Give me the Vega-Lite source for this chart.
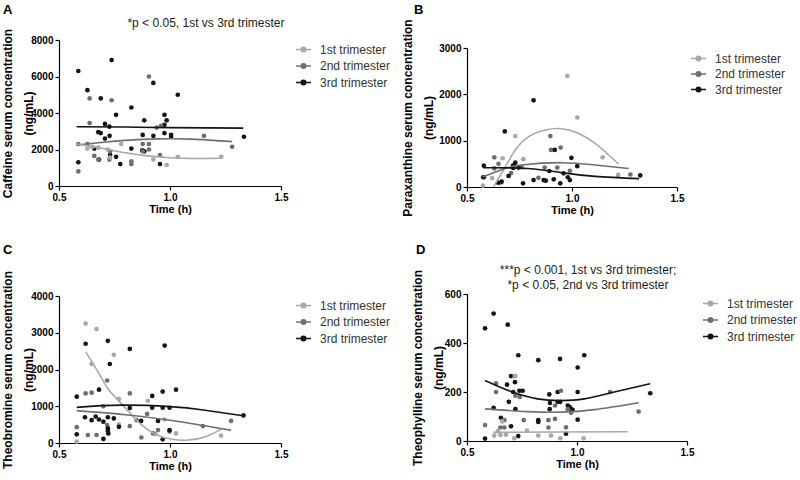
{
"$schema": "https://vega.github.io/schema/vega-lite/v6.json",
"background": "white",
"padding": {"left": 0, "top": 3, "right": 5, "bottom": 5},
"config": {
  "font": "Liberation Sans",
  "view": {"stroke": null},
  "axis": {"domainColor": "#000", "tickColor": "#000", "labelColor": "#000", "titleColor": "#000", "labelFontWeight": "bold", "labelFontSize": 10, "titleFontSize": 11, "titleFontWeight": "bold", "grid": false, "tickSize": 4, "labelPadding": 2, "domainWidth": 1.2, "tickWidth": 1.2, "labelFlush": false, "labelOverlap": false, "tickCount": 10},
  "axisY": {"titleFontSize": 12, "titleLineHeight": 21, "titleAlign": "center", "titleBaseline": "middle", "titleAngle": -90, "labelOverlap": false},
  "legend": {"title": null, "orient": "none", "symbolType": "M-1,0H1M-0.3,0A0.3,0.3 0 1,1 0.3,0A0.3,0.3 0 1,1 -0.3,0Z", "symbolSize": 225, "symbolStrokeWidth": 1.5, "labelFontSize": 12, "labelColor": "#333", "labelOffset": 8, "rowPadding": 1.5, "padding": 0}
},
"datasets": {
"pts": [
{"panel":"A","tri":"3rd trimester","time":0.587,"conc":6300},{"panel":"A","tri":"3rd trimester","time":0.737,"conc":6900},{"panel":"A","tri":"3rd trimester","time":0.628,"conc":5250},{"panel":"A","tri":"3rd trimester","time":0.688,"conc":4800},{"panel":"A","tri":"3rd trimester","time":0.925,"conc":5650},{"panel":"A","tri":"3rd trimester","time":1.035,"conc":5000},{"panel":"A","tri":"3rd trimester","time":0.826,"conc":4300},{"panel":"A","tri":"3rd trimester","time":0.757,"conc":3900},{"panel":"A","tri":"3rd trimester","time":0.975,"conc":3900},{"panel":"A","tri":"3rd trimester","time":0.985,"conc":3600},{"panel":"A","tri":"3rd trimester","time":0.884,"conc":3600},{"panel":"A","tri":"3rd trimester","time":0.707,"conc":3400},{"panel":"A","tri":"3rd trimester","time":0.727,"conc":3250},{"panel":"A","tri":"3rd trimester","time":0.975,"conc":3350},{"panel":"A","tri":"3rd trimester","time":0.677,"conc":2950},{"panel":"A","tri":"3rd trimester","time":0.688,"conc":2900},{"panel":"A","tri":"3rd trimester","time":0.728,"conc":2750},{"panel":"A","tri":"3rd trimester","time":0.707,"conc":2600},{"panel":"A","tri":"3rd trimester","time":0.877,"conc":2800},{"panel":"A","tri":"3rd trimester","time":0.925,"conc":2750},{"panel":"A","tri":"3rd trimester","time":0.975,"conc":2900},{"panel":"A","tri":"3rd trimester","time":1.005,"conc":2800},{"panel":"A","tri":"3rd trimester","time":1.005,"conc":2700},{"panel":"A","tri":"3rd trimester","time":1.333,"conc":2700},{"panel":"A","tri":"3rd trimester","time":0.659,"conc":2050},{"panel":"A","tri":"3rd trimester","time":0.826,"conc":2050},{"panel":"A","tri":"3rd trimester","time":0.875,"conc":1950},{"panel":"A","tri":"3rd trimester","time":0.884,"conc":1900},{"panel":"A","tri":"3rd trimester","time":0.73,"conc":1700},{"panel":"A","tri":"3rd trimester","time":0.68,"conc":1450},{"panel":"A","tri":"3rd trimester","time":0.757,"conc":1600},{"panel":"A","tri":"3rd trimester","time":0.587,"conc":1300},{"panel":"A","tri":"3rd trimester","time":0.776,"conc":1200},{"panel":"A","tri":"3rd trimester","time":0.955,"conc":1200},
{"panel":"A","tri":"2nd trimester","time":0.905,"conc":6000},{"panel":"A","tri":"2nd trimester","time":0.638,"conc":4800},{"panel":"A","tri":"2nd trimester","time":0.737,"conc":4700},{"panel":"A","tri":"2nd trimester","time":0.638,"conc":3450},{"panel":"A","tri":"2nd trimester","time":0.587,"conc":2300},{"panel":"A","tri":"2nd trimester","time":0.628,"conc":2300},{"panel":"A","tri":"2nd trimester","time":0.877,"conc":2300},{"panel":"A","tri":"2nd trimester","time":0.905,"conc":2300},{"panel":"A","tri":"2nd trimester","time":1.153,"conc":2750},{"panel":"A","tri":"2nd trimester","time":1.28,"conc":2150},{"panel":"A","tri":"2nd trimester","time":0.905,"conc":2000},{"panel":"A","tri":"2nd trimester","time":0.659,"conc":1650},{"panel":"A","tri":"2nd trimester","time":0.677,"conc":1450},{"panel":"A","tri":"2nd trimester","time":0.727,"conc":1450},{"panel":"A","tri":"2nd trimester","time":0.826,"conc":1350},{"panel":"A","tri":"2nd trimester","time":0.826,"conc":1200},{"panel":"A","tri":"2nd trimester","time":0.955,"conc":1700},{"panel":"A","tri":"2nd trimester","time":0.587,"conc":800},{"panel":"A","tri":"2nd trimester","time":0.94,"conc":3200},{"panel":"A","tri":"2nd trimester","time":0.96,"conc":3300},{"panel":"A","tri":"2nd trimester","time":0.73,"conc":1900},{"panel":"A","tri":"2nd trimester","time":0.877,"conc":1900},
{"panel":"A","tri":"1st trimester","time":0.628,"conc":2050},{"panel":"A","tri":"1st trimester","time":0.78,"conc":2300},{"panel":"A","tri":"1st trimester","time":0.925,"conc":1450},{"panel":"A","tri":"1st trimester","time":0.985,"conc":1150},{"panel":"A","tri":"1st trimester","time":1.035,"conc":1600},{"panel":"A","tri":"1st trimester","time":1.231,"conc":1600},{"panel":"A","tri":"1st trimester","time":0.677,"conc":2100},{"panel":"A","tri":"1st trimester","time":0.72,"conc":2000},{"panel":"A","tri":"1st trimester","time":0.65,"conc":2150},{"panel":"A","tri":"1st trimester","time":0.73,"conc":1550},
{"panel":"B","tri":"1st trimester","time":0.978,"conc":2400},{"panel":"B","tri":"1st trimester","time":1.025,"conc":1500},{"panel":"B","tri":"1st trimester","time":0.73,"conc":1100},{"panel":"B","tri":"1st trimester","time":0.67,"conc":620},{"panel":"B","tri":"1st trimester","time":0.768,"conc":600},{"panel":"B","tri":"1st trimester","time":1.146,"conc":640},{"panel":"B","tri":"1st trimester","time":0.62,"conc":190},{"panel":"B","tri":"1st trimester","time":1.22,"conc":260},{"panel":"B","tri":"1st trimester","time":0.576,"conc":30},{"panel":"B","tri":"1st trimester","time":0.66,"conc":80},
{"panel":"B","tri":"2nd trimester","time":0.897,"conc":1100},{"panel":"B","tri":"2nd trimester","time":0.9,"conc":800},{"panel":"B","tri":"2nd trimester","time":0.946,"conc":850},{"panel":"B","tri":"2nd trimester","time":0.63,"conc":640},{"panel":"B","tri":"2nd trimester","time":0.576,"conc":210},{"panel":"B","tri":"2nd trimester","time":1.278,"conc":270},{"panel":"B","tri":"2nd trimester","time":0.93,"conc":420},{"panel":"B","tri":"2nd trimester","time":0.87,"conc":420},{"panel":"B","tri":"2nd trimester","time":0.76,"conc":430},{"panel":"B","tri":"2nd trimester","time":0.65,"conc":500},{"panel":"B","tri":"2nd trimester","time":0.71,"conc":300},{"panel":"B","tri":"2nd trimester","time":0.84,"conc":200},{"panel":"B","tri":"2nd trimester","time":0.99,"conc":350},{"panel":"B","tri":"2nd trimester","time":0.63,"conc":400},
{"panel":"B","tri":"3rd trimester","time":0.817,"conc":1870},{"panel":"B","tri":"3rd trimester","time":0.68,"conc":1200},{"panel":"B","tri":"3rd trimester","time":0.918,"conc":800},{"panel":"B","tri":"3rd trimester","time":0.997,"conc":630},{"panel":"B","tri":"3rd trimester","time":1.025,"conc":450},{"panel":"B","tri":"3rd trimester","time":1.325,"conc":250},{"panel":"B","tri":"3rd trimester","time":0.58,"conc":460},{"panel":"B","tri":"3rd trimester","time":0.58,"conc":210},{"panel":"B","tri":"3rd trimester","time":0.73,"conc":525},{"panel":"B","tri":"3rd trimester","time":0.72,"conc":410},{"panel":"B","tri":"3rd trimester","time":0.698,"conc":237},{"panel":"B","tri":"3rd trimester","time":0.767,"conc":80},{"panel":"B","tri":"3rd trimester","time":0.817,"conc":150},{"panel":"B","tri":"3rd trimester","time":0.865,"conc":150},{"panel":"B","tri":"3rd trimester","time":0.875,"conc":137},{"panel":"B","tri":"3rd trimester","time":0.913,"conc":165},{"panel":"B","tri":"3rd trimester","time":0.944,"conc":80},{"panel":"B","tri":"3rd trimester","time":0.96,"conc":295},{"panel":"B","tri":"3rd trimester","time":0.98,"conc":210},{"panel":"B","tri":"3rd trimester","time":0.99,"conc":150},{"panel":"B","tri":"3rd trimester","time":0.648,"conc":94},{"panel":"B","tri":"3rd trimester","time":0.665,"conc":115},{"panel":"B","tri":"3rd trimester","time":0.892,"conc":345},{"panel":"B","tri":"3rd trimester","time":0.72,"conc":470},{"panel":"B","tri":"3rd trimester","time":0.745,"conc":420},
{"panel":"C","tri":"1st trimester","time":0.62,"conc":3250},{"panel":"C","tri":"1st trimester","time":0.669,"conc":3100},{"panel":"C","tri":"1st trimester","time":0.647,"conc":2150},{"panel":"C","tri":"1st trimester","time":0.747,"conc":2400},{"panel":"C","tri":"1st trimester","time":0.77,"conc":1200},{"panel":"C","tri":"1st trimester","time":0.58,"conc":40},{"panel":"C","tri":"1st trimester","time":1.027,"conc":260},{"panel":"C","tri":"1st trimester","time":1.23,"conc":200},{"panel":"C","tri":"1st trimester","time":0.934,"conc":250},{"panel":"C","tri":"1st trimester","time":0.976,"conc":640},{"panel":"C","tri":"1st trimester","time":0.77,"conc":500},{"panel":"C","tri":"1st trimester","time":0.9,"conc":1150},
{"panel":"C","tri":"2nd trimester","time":0.58,"conc":430},{"panel":"C","tri":"2nd trimester","time":0.63,"conc":218},{"panel":"C","tri":"2nd trimester","time":0.669,"conc":218},{"panel":"C","tri":"2nd trimester","time":0.717,"conc":490},{"panel":"C","tri":"2nd trimester","time":0.717,"conc":1700},{"panel":"C","tri":"2nd trimester","time":0.62,"conc":1350},{"panel":"C","tri":"2nd trimester","time":0.647,"conc":1370},{"panel":"C","tri":"2nd trimester","time":0.819,"conc":1350},{"panel":"C","tri":"2nd trimester","time":0.819,"conc":460},{"panel":"C","tri":"2nd trimester","time":0.897,"conc":790},{"panel":"C","tri":"2nd trimester","time":0.871,"conc":150},{"panel":"C","tri":"2nd trimester","time":0.924,"conc":260},{"panel":"C","tri":"2nd trimester","time":0.946,"conc":354},{"panel":"C","tri":"2nd trimester","time":0.998,"conc":310},{"panel":"C","tri":"2nd trimester","time":1.148,"conc":460},{"panel":"C","tri":"2nd trimester","time":1.275,"conc":600},{"panel":"C","tri":"2nd trimester","time":0.85,"conc":620},{"panel":"C","tri":"2nd trimester","time":0.7,"conc":1000},
{"panel":"C","tri":"3rd trimester","time":0.58,"conc":1260},{"panel":"C","tri":"3rd trimester","time":0.62,"conc":2700},{"panel":"C","tri":"3rd trimester","time":0.72,"conc":2780},{"panel":"C","tri":"3rd trimester","time":0.729,"conc":2150},{"panel":"C","tri":"3rd trimester","time":0.819,"conc":2560},{"panel":"C","tri":"3rd trimester","time":0.976,"conc":2650},{"panel":"C","tri":"3rd trimester","time":0.68,"conc":1450},{"panel":"C","tri":"3rd trimester","time":0.92,"conc":1280},{"panel":"C","tri":"3rd trimester","time":0.967,"conc":1400},{"panel":"C","tri":"3rd trimester","time":1.027,"conc":1450},{"panel":"C","tri":"3rd trimester","time":1.331,"conc":750},{"panel":"C","tri":"3rd trimester","time":0.617,"conc":700},{"panel":"C","tri":"3rd trimester","time":0.647,"conc":620},{"panel":"C","tri":"3rd trimester","time":0.665,"conc":720},{"panel":"C","tri":"3rd trimester","time":0.68,"conc":640},{"panel":"C","tri":"3rd trimester","time":0.7,"conc":580},{"panel":"C","tri":"3rd trimester","time":0.72,"conc":700},{"panel":"C","tri":"3rd trimester","time":0.747,"conc":670},{"panel":"C","tri":"3rd trimester","time":0.77,"conc":440},{"panel":"C","tri":"3rd trimester","time":0.72,"conc":400},{"panel":"C","tri":"3rd trimester","time":0.722,"conc":260},{"panel":"C","tri":"3rd trimester","time":0.7,"conc":110},{"panel":"C","tri":"3rd trimester","time":0.819,"conc":950},{"panel":"C","tri":"3rd trimester","time":0.87,"conc":600},{"panel":"C","tri":"3rd trimester","time":0.92,"conc":960},{"panel":"C","tri":"3rd trimester","time":0.967,"conc":960},{"panel":"C","tri":"3rd trimester","time":0.998,"conc":960},{"panel":"C","tri":"3rd trimester","time":0.946,"conc":600},{"panel":"C","tri":"3rd trimester","time":0.967,"conc":100},{"panel":"C","tri":"3rd trimester","time":0.998,"conc":350},{"panel":"C","tri":"3rd trimester","time":0.58,"conc":236},{"panel":"C","tri":"3rd trimester","time":0.72,"conc":330},
{"panel":"D","tri":"3rd trimester","time":0.582,"conc":460},{"panel":"D","tri":"3rd trimester","time":0.621,"conc":520},{"panel":"D","tri":"3rd trimester","time":0.685,"conc":475},{"panel":"D","tri":"3rd trimester","time":0.733,"conc":350},{"panel":"D","tri":"3rd trimester","time":0.824,"conc":330},{"panel":"D","tri":"3rd trimester","time":0.923,"conc":335},{"panel":"D","tri":"3rd trimester","time":1.033,"conc":350},{"panel":"D","tri":"3rd trimester","time":1.003,"conc":300},{"panel":"D","tri":"3rd trimester","time":0.7,"conc":265},{"panel":"D","tri":"3rd trimester","time":0.718,"conc":240},{"panel":"D","tri":"3rd trimester","time":0.682,"conc":230},{"panel":"D","tri":"3rd trimester","time":0.738,"conc":205},{"panel":"D","tri":"3rd trimester","time":0.753,"conc":205},{"panel":"D","tri":"3rd trimester","time":0.71,"conc":200},{"panel":"D","tri":"3rd trimester","time":0.874,"conc":190},{"panel":"D","tri":"3rd trimester","time":0.912,"conc":200},{"panel":"D","tri":"3rd trimester","time":0.877,"conc":155},{"panel":"D","tri":"3rd trimester","time":0.912,"conc":160},{"panel":"D","tri":"3rd trimester","time":0.924,"conc":160},{"panel":"D","tri":"3rd trimester","time":0.958,"conc":145},{"panel":"D","tri":"3rd trimester","time":0.967,"conc":138},{"panel":"D","tri":"3rd trimester","time":0.973,"conc":130},{"panel":"D","tri":"3rd trimester","time":0.98,"conc":127},{"panel":"D","tri":"3rd trimester","time":1.003,"conc":200},{"panel":"D","tri":"3rd trimester","time":1.003,"conc":87},{"panel":"D","tri":"3rd trimester","time":1.333,"conc":195},{"panel":"D","tri":"3rd trimester","time":0.621,"conc":135},{"panel":"D","tri":"3rd trimester","time":0.654,"conc":95},{"panel":"D","tri":"3rd trimester","time":0.7,"conc":60},{"panel":"D","tri":"3rd trimester","time":0.824,"conc":85},{"panel":"D","tri":"3rd trimester","time":0.824,"conc":78},{"panel":"D","tri":"3rd trimester","time":0.876,"conc":130},{"panel":"D","tri":"3rd trimester","time":0.582,"conc":10},{"panel":"D","tri":"3rd trimester","time":0.733,"conc":20},{"panel":"D","tri":"3rd trimester","time":0.95,"conc":30},{"panel":"D","tri":"3rd trimester","time":0.69,"conc":160},{"panel":"D","tri":"3rd trimester","time":0.72,"conc":130},
{"panel":"D","tri":"2nd trimester","time":0.715,"conc":265},{"panel":"D","tri":"2nd trimester","time":0.632,"conc":235},{"panel":"D","tri":"2nd trimester","time":0.632,"conc":200},{"panel":"D","tri":"2nd trimester","time":0.927,"conc":205},{"panel":"D","tri":"2nd trimester","time":1.15,"conc":200},{"panel":"D","tri":"2nd trimester","time":1.28,"conc":120},{"panel":"D","tri":"2nd trimester","time":0.582,"conc":65},{"panel":"D","tri":"2nd trimester","time":0.67,"conc":85},{"panel":"D","tri":"2nd trimester","time":0.67,"conc":55},{"panel":"D","tri":"2nd trimester","time":0.758,"conc":85},{"panel":"D","tri":"2nd trimester","time":0.87,"conc":85},{"panel":"D","tri":"2nd trimester","time":0.9,"conc":90},{"panel":"D","tri":"2nd trimester","time":0.87,"conc":55},{"panel":"D","tri":"2nd trimester","time":0.72,"conc":185},{"panel":"D","tri":"2nd trimester","time":0.9,"conc":145},{"panel":"D","tri":"2nd trimester","time":0.958,"conc":130},{"panel":"D","tri":"2nd trimester","time":0.973,"conc":115},{"panel":"D","tri":"2nd trimester","time":0.95,"conc":56},{"panel":"D","tri":"2nd trimester","time":0.652,"conc":55},{"panel":"D","tri":"2nd trimester","time":0.74,"conc":180},
{"panel":"D","tri":"1st trimester","time":0.64,"conc":40},{"panel":"D","tri":"1st trimester","time":0.652,"conc":25},{"panel":"D","tri":"1st trimester","time":0.677,"conc":26},{"panel":"D","tri":"1st trimester","time":0.773,"conc":42},{"panel":"D","tri":"1st trimester","time":0.824,"conc":22},{"panel":"D","tri":"1st trimester","time":0.882,"conc":22},{"panel":"D","tri":"1st trimester","time":0.924,"conc":11},{"panel":"D","tri":"1st trimester","time":1.03,"conc":11},{"panel":"D","tri":"1st trimester","time":0.715,"conc":11},{"panel":"D","tri":"1st trimester","time":0.624,"conc":22},{"panel":"D","tri":"1st trimester","time":0.72,"conc":265},{"panel":"D","tri":"1st trimester","time":0.66,"conc":80}
],
"fit": [
{"panel":"A","tri":"3rd trimester","time":0.58,"conc":3250},{"panel":"A","tri":"3rd trimester","time":0.8,"conc":3230},{"panel":"A","tri":"3rd trimester","time":1.0,"conc":3200},{"panel":"A","tri":"3rd trimester","time":1.33,"conc":3170},
{"panel":"A","tri":"2nd trimester","time":0.58,"conc":2250},{"panel":"A","tri":"2nd trimester","time":0.7,"conc":2400},{"panel":"A","tri":"2nd trimester","time":0.8,"conc":2500},{"panel":"A","tri":"2nd trimester","time":0.95,"conc":2580},{"panel":"A","tri":"2nd trimester","time":1.1,"conc":2570},{"panel":"A","tri":"2nd trimester","time":1.28,"conc":2430},
{"panel":"A","tri":"1st trimester","time":0.58,"conc":2300},{"panel":"A","tri":"1st trimester","time":0.7,"conc":2050},{"panel":"A","tri":"1st trimester","time":0.8,"conc":1820},{"panel":"A","tri":"1st trimester","time":0.9,"conc":1650},{"panel":"A","tri":"1st trimester","time":1.0,"conc":1550},{"panel":"A","tri":"1st trimester","time":1.1,"conc":1510},{"panel":"A","tri":"1st trimester","time":1.23,"conc":1520},
{"panel":"B","tri":"1st trimester","time":0.627,"conc":10},{"panel":"B","tri":"1st trimester","time":0.683,"conc":438},{"panel":"B","tri":"1st trimester","time":0.73,"conc":798},{"panel":"B","tri":"1st trimester","time":0.794,"conc":1086},{"panel":"B","tri":"1st trimester","time":0.873,"conc":1230},{"panel":"B","tri":"1st trimester","time":0.952,"conc":1258},{"panel":"B","tri":"1st trimester","time":1.03,"conc":1158},{"panel":"B","tri":"1st trimester","time":1.11,"conc":942},{"panel":"B","tri":"1st trimester","time":1.175,"conc":690},{"panel":"B","tri":"1st trimester","time":1.222,"conc":496},
{"panel":"B","tri":"2nd trimester","time":0.576,"conc":220},{"panel":"B","tri":"2nd trimester","time":0.667,"conc":380},{"panel":"B","tri":"2nd trimester","time":0.76,"conc":475},{"panel":"B","tri":"2nd trimester","time":0.95,"conc":525},{"panel":"B","tri":"2nd trimester","time":1.11,"conc":475},{"panel":"B","tri":"2nd trimester","time":1.27,"conc":400},
{"panel":"B","tri":"3rd trimester","time":0.576,"conc":415},{"panel":"B","tri":"3rd trimester","time":0.79,"conc":400},{"panel":"B","tri":"3rd trimester","time":0.95,"conc":310},{"panel":"B","tri":"3rd trimester","time":1.11,"conc":230},{"panel":"B","tri":"3rd trimester","time":1.32,"conc":180},
{"panel":"C","tri":"1st trimester","time":0.62,"conc":2480},{"panel":"C","tri":"1st trimester","time":0.68,"conc":1895},{"panel":"C","tri":"1st trimester","time":0.725,"conc":1440},{"panel":"C","tri":"1st trimester","time":0.784,"conc":1050},{"panel":"C","tri":"1st trimester","time":0.86,"conc":560},{"panel":"C","tri":"1st trimester","time":0.934,"conc":240},{"panel":"C","tri":"1st trimester","time":1.01,"conc":100},{"panel":"C","tri":"1st trimester","time":1.084,"conc":82},{"panel":"C","tri":"1st trimester","time":1.16,"conc":172},{"panel":"C","tri":"1st trimester","time":1.23,"conc":370},
{"panel":"C","tri":"3rd trimester","time":0.58,"conc":970},{"panel":"C","tri":"3rd trimester","time":0.78,"conc":1030},{"panel":"C","tri":"3rd trimester","time":1.0,"conc":990},{"panel":"C","tri":"3rd trimester","time":1.15,"conc":900},{"panel":"C","tri":"3rd trimester","time":1.33,"conc":740},
{"panel":"C","tri":"2nd trimester","time":0.58,"conc":880},{"panel":"C","tri":"2nd trimester","time":0.8,"conc":770},{"panel":"C","tri":"2nd trimester","time":1.0,"conc":620},{"panel":"C","tri":"2nd trimester","time":1.275,"conc":350},
{"panel":"D","tri":"3rd trimester","time":0.582,"conc":247},{"panel":"D","tri":"3rd trimester","time":0.7,"conc":202},{"panel":"D","tri":"3rd trimester","time":0.82,"conc":172},{"panel":"D","tri":"3rd trimester","time":0.927,"conc":165},{"panel":"D","tri":"3rd trimester","time":1.033,"conc":172},{"panel":"D","tri":"3rd trimester","time":1.155,"conc":197},{"panel":"D","tri":"3rd trimester","time":1.333,"conc":234},
{"panel":"D","tri":"2nd trimester","time":0.582,"conc":131},{"panel":"D","tri":"2nd trimester","time":0.776,"conc":120},{"panel":"D","tri":"2nd trimester","time":0.927,"conc":118},{"panel":"D","tri":"2nd trimester","time":1.079,"conc":128},{"panel":"D","tri":"2nd trimester","time":1.28,"conc":156},
{"panel":"D","tri":"1st trimester","time":0.62,"conc":35},{"panel":"D","tri":"1st trimester","time":0.9,"conc":37},{"panel":"D","tri":"1st trimester","time":1.23,"conc":38}
]
},
"bounds": "flush",
"spacing": 408,
"resolve": {"legend": {"color": "independent"}},
"hconcat": [
 {"vconcat": [
  {"width": 222, "height": 146,
   "layer": [
    {"data": {"name": "pts"}, "transform": [{"filter": "datum.panel === 'A'"}],
     "mark": {"type": "point", "filled": true, "size": 22, "opacity": 1},
     "encoding": {
      "x": {"field": "time", "type": "quantitative", "scale": {"domain": [0.5, 1.5], "nice": false, "zero": false}, "axis": {"values": [0.5, 1.0, 1.5], "format": ".1f", "title": "Time (h)", "titlePadding": 1, "tickCount": 10}},
      "y": {"field": "conc", "type": "quantitative", "scale": {"domain": [0, 8000], "nice": false}, "axis": {"values": [0, 2000, 4000, 6000, 8000], "tickCount": 10, "format": "d", "labelOverlap": false, "title": ["Caffeine serum concentration", "(ng/mL)"], "titleX": -52, "titleY": 73}},
      "color": {"field": "tri", "type": "nominal", "scale": {"domain": ["1st trimester", "2nd trimester", "3rd trimester"], "range": ["#a8a8a8", "#6e6e6e", "#141414"]},
       "legend": {"legendX": 236, "legendY": 1, "encode": {"symbols": {"update": {"fill": {"scale": "color", "field": "value"}, "stroke": {"scale": "color", "field": "value"}, "opacity": {"value": 1}}}}}}
     }},
    {"data": {"name": "fit"}, "transform": [{"filter": "datum.panel === 'A'"}],
     "mark": {"type": "line", "interpolate": "natural", "strokeWidth": 1.6},
     "encoding": {"x": {"field": "time", "type": "quantitative"}, "y": {"field": "conc", "type": "quantitative"}, "color": {"field": "tri", "type": "nominal"}}},
    {"data": {"values": [{"label": "A"}]},
     "mark": {"type": "text", "align": "left", "baseline": "alphabetic", "fontSize": 13, "fontWeight": "bold", "color": "#000"},
     "encoding": {"x": {"datum": 0.248}, "y": {"datum": 9425}, "text": {"field": "label"}}},
    {"data": {"values": [{"label": "*p < 0.05, 1st vs 3rd trimester"}]},
     "mark": {"type": "text", "align": "center", "baseline": "middle", "fontSize": 12, "color": "#222"},
     "encoding": {"x": {"datum": 1.162}, "y": {"datum": 8930}, "text": {"field": "label"}}}
   ]},
  {"width": 222, "height": 147,
   "layer": [
    {"data": {"name": "pts"}, "transform": [{"filter": "datum.panel === 'C'"}],
     "mark": {"type": "point", "filled": true, "size": 22, "opacity": 1},
     "encoding": {
      "x": {"field": "time", "type": "quantitative", "scale": {"domain": [0.5, 1.5], "nice": false, "zero": false}, "axis": {"values": [0.5, 1.0, 1.5], "format": ".1f", "title": "Time (h)", "titlePadding": 1, "tickCount": 10}},
      "y": {"field": "conc", "type": "quantitative", "scale": {"domain": [0, 4000], "nice": false}, "axis": {"values": [0, 1000, 2000, 3000, 4000], "tickCount": 10, "format": "d", "labelOverlap": false, "title": ["Theobromine serum concentration", "(ng/mL)"], "titleX": -52, "titleY": 73.5}},
      "color": {"field": "tri", "type": "nominal",
       "legend": {"legendX": 236, "legendY": 1, "encode": {"symbols": {"update": {"fill": {"scale": "color", "field": "value"}, "stroke": {"scale": "color", "field": "value"}, "opacity": {"value": 1}}}}}}
     }},
    {"data": {"name": "fit"}, "transform": [{"filter": "datum.panel === 'C'"}],
     "mark": {"type": "line", "interpolate": "natural", "strokeWidth": 1.6},
     "encoding": {"x": {"field": "time", "type": "quantitative"}, "y": {"field": "conc", "type": "quantitative"}, "color": {"field": "tri", "type": "nominal"}}},
    {"data": {"values": [{"label": "C"}]},
     "mark": {"type": "text", "align": "left", "baseline": "alphabetic", "fontSize": 13, "fontWeight": "bold", "color": "#000"},
     "encoding": {"x": {"datum": 0.248}, "y": {"datum": 5143}, "text": {"field": "label"}}}
   ]}
 ], "spacing": 110, "bounds": "flush", "resolve": {"legend": {"color": "independent"}}},
 {"vconcat": [
  {"width": 210, "height": 147,
   "layer": [
    {"data": {"name": "pts"}, "transform": [{"filter": "datum.panel === 'B'"}],
     "mark": {"type": "point", "filled": true, "size": 22, "opacity": 1},
     "encoding": {
      "x": {"field": "time", "type": "quantitative", "scale": {"domain": [0.5, 1.5], "nice": false, "zero": false}, "axis": {"values": [0.5, 1.0, 1.5], "format": ".1f", "title": "Time (h)", "titlePadding": 1, "tickCount": 10}},
      "y": {"field": "conc", "type": "quantitative", "scale": {"domain": [0, 3000], "nice": false, "range": [147, 8]}, "axis": {"values": [0, 1000, 2000, 3000], "tickCount": 10, "format": "d", "labelOverlap": false, "title": ["Paraxanthine serum concentration", "(ng/mL)"], "titleX": -60, "titleY": 77.5}},
      "color": {"field": "tri", "type": "nominal",
       "legend": {"legendX": 223, "legendY": 10, "rowPadding": 0.5, "encode": {"symbols": {"update": {"fill": {"scale": "color", "field": "value"}, "stroke": {"scale": "color", "field": "value"}, "opacity": {"value": 1}}}}}}
     }},
    {"data": {"name": "fit"}, "transform": [{"filter": "datum.panel === 'B'"}],
     "mark": {"type": "line", "interpolate": "natural", "strokeWidth": 1.6},
     "encoding": {"x": {"field": "time", "type": "quantitative"}, "y": {"field": "conc", "type": "quantitative"}, "color": {"field": "tri", "type": "nominal"}}},
    {"data": {"values": [{"label": "B"}]},
     "mark": {"type": "text", "align": "left", "baseline": "alphabetic", "fontSize": 13, "fontWeight": "bold", "color": "#000"},
     "encoding": {"x": {"datum": 0.248}, "y": {"datum": 3734}, "text": {"field": "label"}}}
   ]},
  {"width": 220, "height": 147,
   "layer": [
    {"data": {"name": "pts"}, "transform": [{"filter": "datum.panel === 'D'"}],
     "mark": {"type": "point", "filled": true, "size": 22, "opacity": 1},
     "encoding": {
      "x": {"field": "time", "type": "quantitative", "scale": {"domain": [0.5, 1.5], "nice": false, "zero": false}, "axis": {"values": [0.5, 1.0, 1.5], "format": ".1f", "title": "Time (h)", "titlePadding": 1, "tickCount": 10}},
      "y": {"field": "conc", "type": "quantitative", "scale": {"domain": [0, 600], "nice": false}, "axis": {"values": [0, 200, 400, 600], "tickCount": 10, "format": "d", "labelOverlap": false, "title": ["Theophylline serum concentration", "(ng/mL)"], "titleX": -50, "titleY": 73.5}},
      "color": {"field": "tri", "type": "nominal",
       "legend": {"legendX": 235, "legendY": 1, "encode": {"symbols": {"update": {"fill": {"scale": "color", "field": "value"}, "stroke": {"scale": "color", "field": "value"}, "opacity": {"value": 1}}}}}}
     }},
    {"data": {"name": "fit"}, "transform": [{"filter": "datum.panel === 'D'"}],
     "mark": {"type": "line", "interpolate": "natural", "strokeWidth": 1.6},
     "encoding": {"x": {"field": "time", "type": "quantitative"}, "y": {"field": "conc", "type": "quantitative"}, "color": {"field": "tri", "type": "nominal"}}},
    {"data": {"values": [{"label": "D"}]},
     "mark": {"type": "text", "align": "left", "baseline": "alphabetic", "fontSize": 13, "fontWeight": "bold", "color": "#000"},
     "encoding": {"x": {"datum": 0.268}, "y": {"datum": 763}, "text": {"field": "label"}}},
    {"data": {"values": [{"label": "***p < 0.001, 1st vs 3rd trimester;\n*p < 0.05, 2nd vs 3rd trimester"}]},
     "mark": {"type": "text", "align": "center", "baseline": "middle", "fontSize": 12, "color": "#222", "lineHeight": 15, "lineBreak": "\n"},
     "encoding": {"x": {"datum": 1.05}, "y": {"datum": 700}, "text": {"field": "label"}}}
   ]}
 ], "spacing": 107, "bounds": "flush", "resolve": {"legend": {"color": "independent"}}}
]
}
